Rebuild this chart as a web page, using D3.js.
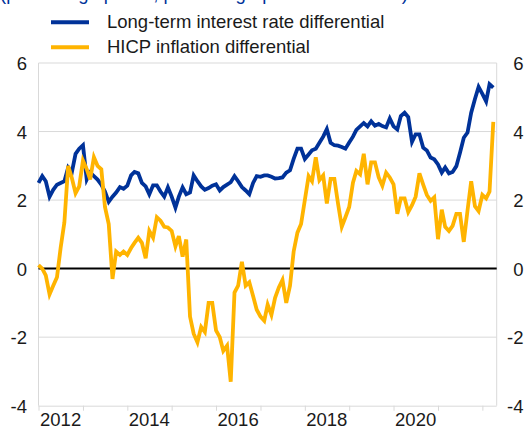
<!DOCTYPE html>
<html>
<head>
<meta charset="utf-8">
<script src="https://cdn.jsdelivr.net/npm/d3@7"></script>
<style>
  html, body { margin: 0; padding: 0; background: #fff; }
  svg { display: block; font-family: "Liberation Sans", Arial, sans-serif; }
</style>
</head>
<body>
<div id="chart"></div>
<script>
// monthly observations, Jan 2012 - Apr 2022
const startMonth = "2012-01-01";

const rateDiff = [
  2.5, 2.7, 2.55, 2.1, 2.3, 2.45, 2.5, 2.55, 2.95, 2.8, 3.35, 3.5,
  3.6, 2.6, 2.8, 2.7, 2.6, 2.45, 2.25, 1.95, 2.1, 2.22, 2.38, 2.33,
  2.42, 2.72, 2.82, 2.78, 2.5, 2.4, 2.17, 2.43, 2.43, 2.25, 2.1, 2.37,
  2.1, 1.78, 2.1, 2.37, 2.17, 2.22, 2.72, 2.55, 2.4, 2.3, 2.35, 2.42,
  2.46, 2.28, 2.38, 2.45, 2.52, 2.7, 2.55, 2.38, 2.28, 2.17, 2.5, 2.7,
  2.68, 2.72, 2.72, 2.68, 2.63, 2.64, 2.66, 2.8, 2.87, 3.2, 3.5, 3.5,
  3.2, 3.33, 3.45, 3.5, 3.67, 3.85, 4.07, 3.67, 3.6, 3.59, 3.55, 3.5,
  3.68, 3.85, 4.05, 4.15, 4.25, 4.15, 4.3, 4.17, 4.22, 4.16, 4.12, 4.38,
  4.15, 4.06, 4.45, 4.55, 4.42, 3.7, 3.92, 3.92, 3.53, 3.45, 3.24, 3.19,
  3.04, 2.8, 2.95, 2.78, 2.82, 2.99, 3.38, 3.82, 3.97, 4.55, 4.95, 5.3,
  5.1, 4.88, 5.38, 5.28
];

const hicpDiff = [
  0.1, 0.0, -0.2, -0.75, -0.5, -0.25, 0.6, 1.35, 3.0, 2.65, 2.2, 2.4,
  3.15, 2.9, 2.6, 3.25, 3.0, 2.9, 1.8, 1.3, -0.3, 0.5, 0.4, 0.5,
  0.4, 0.6, 0.75, 0.9, 0.75, 0.3, 1.1, 0.9, 1.5, 1.4, 1.22, 1.2,
  1.1, 0.65, 0.95, 0.35, 0.85, -1.4, -1.9, -2.15, -1.7, -1.85, -1.0, -1.0,
  -1.8, -2.0, -2.4, -2.25, -3.3, -0.7, -0.5, 0.2, -0.5, -0.4, -0.8, -1.2,
  -1.4, -1.52, -1.05, -1.35, -0.85, -0.55, -0.33, -1.0, -0.5, 0.5, 1.05, 1.3,
  2.0, 2.7, 2.55, 3.25, 2.58, 2.72, 1.9, 2.62, 2.62, 1.9, 1.22, 1.5,
  1.8, 2.51, 2.85, 2.75, 3.35, 2.46, 3.1, 3.1, 2.66, 2.42, 2.8, 2.66,
  2.46, 1.6, 2.05, 2.05, 1.65, 1.85, 2.1, 2.78, 2.45, 2.15, 1.98, 2.08,
  0.86, 1.72, 1.22, 1.1, 1.25, 1.6, 1.6, 0.78, 1.7, 2.55, 1.82, 1.68,
  2.15, 2.05, 2.25, 4.28
];

const seriesNames = ["Long-term interest rate differential", "HICP inflation differential"];
const seriesColors = ["#003299", "#FFB400"];
const yTicks = [-4, -2, 0, 2, 4, 6];
const yearTicks = [2012, 2013, 2014, 2015, 2016, 2017, 2018, 2019, 2020, 2021, 2022];
const yearLabels = [2012, 2014, 2016, 2018, 2020];

const W = 524, H = 428;
const plotL = 38.5, plotR = 496.7, plotT = 63, plotB = 405.7;

const dates = d3.timeMonth.range(new Date(startMonth), d3.timeMonth.offset(new Date(startMonth), rateDiff.length));

const svg = d3.select("#chart").append("svg")
  .attr("width", W)
  .attr("height", H);

const x = d3.scaleTime()
  .domain([new Date(2012, 0, 1), new Date(2022, 3, 29)])
  .range([plotL, plotR]);

const y = d3.scaleLinear()
  .domain([-4, 6])
  .range([plotB, plotT]);

// cut-off subtitle at the very top
svg.append("text")
  .attr("x", 0)
  .attr("y", -0.5)
  .style("font-size", "18.5px")
  .style("fill", "#003299")
  .text("(percentage points; percentage-point differentials)");

// gridlines
svg.append("g")
  .selectAll("line")
  .data(yTicks.filter(d => d !== 0 && d !== -4))
  .enter()
  .append("line")
  .attr("x1", plotL)
  .attr("x2", plotR)
  .attr("y1", d => y(d))
  .attr("y2", d => y(d))
  .attr("stroke", "#d9d9d9")
  .attr("stroke-width", 1);

// frame: left, right
svg.append("line")
  .attr("x1", plotL).attr("x2", plotL).attr("y1", plotT).attr("y2", plotB)
  .attr("stroke", "#d9d9d9");
svg.append("line")
  .attr("x1", plotR).attr("x2", plotR).attr("y1", plotT).attr("y2", plotB)
  .attr("stroke", "#d9d9d9");

const xAxis = svg.append("g")
  .attr("transform", `translate(0, ${plotB})`)
  .call(d3.axisBottom(x)
    .tickValues(yearTicks.map(d => new Date(d, 0, 1)))
    .tickSize(5)
    .tickFormat(""));
xAxis.select(".domain").attr("stroke", "#d9d9d9").attr("d", `M${plotL},0.5H${plotR}`);
xAxis.selectAll(".tick line").attr("stroke", "#d9d9d9");

svg.append("g")
  .selectAll("text")
  .data(yearLabels)
  .enter()
  .append("text")
  .attr("x", d => x(new Date(d, 6, 1)))
  .attr("y", 426)
  .attr("text-anchor", "middle")
  .style("font-size", "18.5px")
  .style("fill", "#1a1a1a")
  .text(d => d);

// y labels on both sides
svg.append("g")
  .selectAll("text")
  .data(yTicks)
  .enter()
  .append("text")
  .attr("x", 27)
  .attr("y", d => y(d) + 7)
  .attr("text-anchor", "end")
  .style("font-size", "18.5px")
  .style("fill", "#1a1a1a")
  .text(d => d);

svg.append("g")
  .selectAll("text")
  .data(yTicks)
  .enter()
  .append("text")
  .attr("x", 523.5)
  .attr("y", d => y(d) + 7)
  .attr("text-anchor", "end")
  .style("font-size", "18.5px")
  .style("fill", "#1a1a1a")
  .text(d => d);

// zero line
svg.append("line")
  .attr("x1", plotL)
  .attr("x2", plotR)
  .attr("y1", y(0))
  .attr("y2", y(0))
  .attr("stroke", "#000")
  .attr("stroke-width", 2);

const line = d3.line()
  .x((d, i) => x(dates[i]))
  .y(d => y(d));

[rateDiff, hicpDiff].forEach((values, k) => {
  svg.append("path")
    .datum(values)
    .attr("fill", "none")
    .attr("stroke", seriesColors[k])
    .attr("stroke-width", 3.8)
    .attr("stroke-linejoin", "miter")
    .attr("d", line);
});

// legend
const legend = svg.append("g");
seriesNames.forEach((name, k) => {
  const by = k === 0 ? 28.3 : 53.3;
  legend.append("line")
    .attr("x1", 51)
    .attr("x2", 89)
    .attr("y1", by - 6)
    .attr("y2", by - 6)
    .attr("stroke", seriesColors[k])
    .attr("stroke-width", 4);
  legend.append("text")
    .attr("x", 107)
    .attr("y", by)
    .style("font-size", "18.5px")
    .style("fill", "#1a1a1a")
    .text(name);
});
</script>
</body>
</html>
